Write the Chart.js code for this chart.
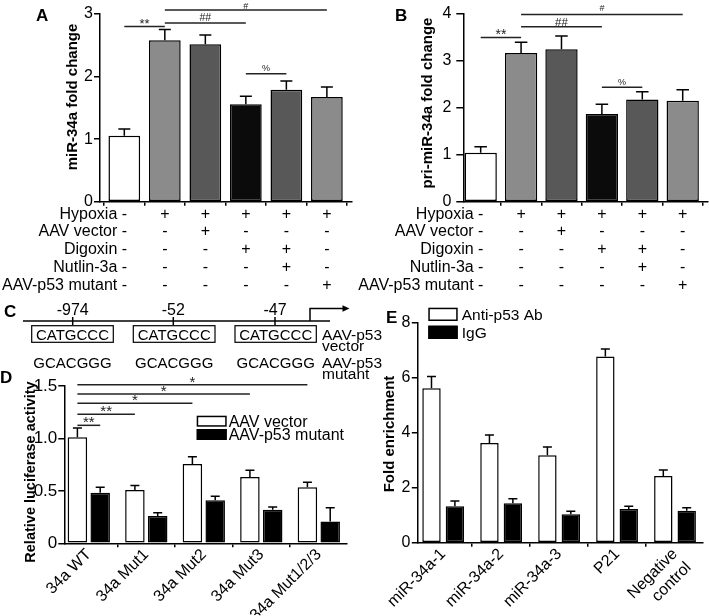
<!DOCTYPE html>
<html>
<head>
<meta charset="utf-8">
<script src="https://cdn.jsdelivr.net/npm/chart.js@4.4.1/dist/chart.umd.min.js"></script>
<style>
html,body{margin:0;padding:0;background:#fff;}
#fig{position:relative;width:709px;height:616px;overflow:hidden;background:#fff;}
#fig canvas{position:absolute;left:0;top:0;}
#fig svg{position:absolute;left:0;top:0;}
</style>
</head>
<body>
<div id="fig">
<canvas id="cA" width="709" height="616"></canvas>
<canvas id="cB" width="709" height="616"></canvas>
<canvas id="cD" width="709" height="616"></canvas>
<canvas id="cE" width="709" height="616"></canvas>
<svg width="709" height="616" viewBox="0 0 709 616" font-family="'Liberation Sans', Arial, Helvetica, sans-serif">
  <g font-weight="bold" font-size="17" fill="#000">
    <text x="36" y="21">A</text>
    <text x="395" y="21">B</text>
    <text x="4" y="316.5">C</text>
    <text x="0" y="383">D</text>
    <text x="386" y="323">E</text>
  </g>
  <g stroke="#000" stroke-width="1.5" fill="none">
    <line x1="23" y1="321" x2="330" y2="321"/>
    <line x1="72.7" y1="317" x2="72.7" y2="325"/>
    <line x1="173.3" y1="317" x2="173.3" y2="325"/>
    <line x1="275" y1="317" x2="275" y2="325"/>
    <path d="M310 321 V308.5 H343"/>
  </g>
  <path d="M349.5 308.5 L342.5 305.3 L342.5 311.7 Z" fill="#000"/>
  <g font-size="16" text-anchor="middle" fill="#000">
    <text x="72.7" y="315">-974</text>
    <text x="173.3" y="315">-52</text>
    <text x="275" y="315">-47</text>
  </g>
  <g stroke="#000" stroke-width="1.2" fill="none">
    <rect x="31.7" y="325.7" width="81.6" height="16.6"/>
    <rect x="133.3" y="325.7" width="81.7" height="16.6"/>
    <rect x="235" y="325.7" width="81.3" height="16.6"/>
  </g>
  <g font-size="15" text-anchor="middle" fill="#000">
    <text x="72.5" y="339.6">CATGCCC</text>
    <text x="174.2" y="339.6">CATGCCC</text>
    <text x="275.7" y="339.6">CATGCCC</text>
    <text x="72.5" y="367.5">GCACGGG</text>
    <text x="174.2" y="367.5">GCACGGG</text>
    <text x="275.7" y="367.5">GCACGGG</text>
  </g>
  <g font-size="15.5" fill="#000">
    <text x="322" y="339.5">AAV-p53</text>
    <text x="322" y="350.5">vector</text>
    <text x="322" y="367.5">AAV-p53</text>
    <text x="322" y="379">mutant</text>
  </g>
</svg>
</div>
<script>
// ---------------- data ----------------
const conditionRows = ['Hypoxia', 'AAV vector', 'Digoxin', 'Nutlin-3a', 'AAV-p53 mutant'];
const conditionTable = [
  ['-', '+', '+', '+', '+', '+'],
  ['-', '-', '+', '-', '-', '-'],
  ['-', '-', '-', '+', '+', '-'],
  ['-', '-', '-', '-', '+', '-'],
  ['-', '-', '-', '-', '-', '+']
];
const groupIndexA = [0, 1, 2, 3, 4, 5];
const miR34aFold = [1.055, 2.58, 2.515, 1.556, 1.79, 1.673];
const miR34aErr  = [0.107, 0.171, 0.149, 0.128, 0.139, 0.16];
const priMiR34aFold = [1.044, 3.17, 3.25, 1.87, 2.18, 2.153];
const priMiR34aErr  = [0.128, 0.227, 0.283, 0.206, 0.164, 0.234];
const yTicksA = [0, 1, 2, 3];
const yTicksB = [0, 1, 2, 3, 4];

const lucCategories = ['34a WT', '34a Mut1', '34a Mut2', '34a Mut3', '34a Mut1/2/3'];
const lucAAVVector = [1.011, 0.508, 0.756, 0.632, 0.534];
const lucAAVVectorErr = [0.089, 0.042, 0.07, 0.064, 0.048];
const lucAAVp53Mutant = [0.483, 0.26, 0.41, 0.321, 0.207];
const lucAAVp53MutantErr = [0.051, 0.032, 0.038, 0.025, 0.133];
const yTicksD = [0, 0.5, 1.0, 1.5];

const chipCategories = ['miR-34a-1', 'miR-34a-2', 'miR-34a-3', 'P21', ['Negative', 'control']];
const chipAntiP53 = [5.605, 3.62, 3.172, 6.755, 2.421];
const chipAntiP53Err = [0.424, 0.29, 0.303, 0.279, 0.218];
const chipIgG = [1.32, 1.429, 1.029, 1.223, 1.162];
const chipIgGErr = [0.193, 0.169, 0.109, 0.097, 0.109];
const yTicksE = [0, 2, 4, 6, 8];

// ---------------- helpers ----------------
const FONT = "'Liberation Sans', Arial, Helvetica, sans-serif";
const W = 709, H = 616;
Chart.defaults.font.family = FONT;
Chart.defaults.color = '#000';

function capText(ctx, text, x, cy, size) {
  ctx.fillText(text, x, cy + size * 0.358);
}
function visText(ctx, text, x, cy) {
  const m = ctx.measureText(text);
  ctx.fillText(text, x, cy + (m.actualBoundingBoxAscent - m.actualBoundingBoxDescent) / 2);
}

const figPlugin = {
  id: 'fig',
  afterDraw(chart, args, o) {
    const ctx = chart.ctx, xs = chart.scales.x, ys = chart.scales.y;
    ctx.save();
    // error bars
    chart.data.datasets.forEach((ds, di) => {
      const meta = chart.getDatasetMeta(di);
      meta.data.forEach((el, i) => {
        const v = ds.data[i].y, e = ds.errors[i];
        const yTop = ys.getPixelForValue(v + e), yBar = ys.getPixelForValue(v);
        ctx.strokeStyle = '#000'; ctx.lineWidth = 1.5;
        ctx.beginPath();
        ctx.moveTo(el.x, yBar); ctx.lineTo(el.x, yTop);
        ctx.moveTo(el.x - o.cap / 2, yTop); ctx.lineTo(el.x + o.cap / 2, yTop);
        ctx.stroke();
      });
    });
    // significance brackets
    const px = ref => chart.getDatasetMeta(ref[0]).data[ref[1]].x;
    (o.sig || []).forEach(s => {
      const x1 = px(s.from), x2 = px(s.to), yy = ys.getPixelForValue(s.y);
      ctx.strokeStyle = '#222'; ctx.lineWidth = 1.5;
      ctx.beginPath(); ctx.moveTo(x1, yy); ctx.lineTo(x2, yy); ctx.stroke();
      ctx.fillStyle = '#222'; ctx.textAlign = 'center';
      ctx.font = s.size + 'px ' + FONT;
      visText(ctx, s.text, (x1 + x2) / 2, yy - s.gap);
    });
    // condition table
    if (o.table) {
      const t = o.table;
      ctx.fillStyle = '#000';
      ctx.font = t.size + 'px ' + FONT;
      t.rows.forEach((r, ri) => {
        const cy = chart.chartArea.bottom + t.first + ri * t.step;
        ctx.textAlign = 'right';
        capText(ctx, r, xs.getPixelForValue(0) - t.nameGap, cy, t.size);
        ctx.textAlign = 'center';
        t.cells[ri].forEach((c, ci) => capText(ctx, c, xs.getPixelForValue(ci), cy, t.size));
      });
    }
    // legend
    if (o.legend) {
      const L = o.legend;
      chart.data.datasets.forEach((ds, i) => {
        const bx = L.x, by = L.y + i * L.dy;
        ctx.fillStyle = ds.backgroundColor;
        ctx.fillRect(bx, by, L.w, L.h);
        ctx.strokeStyle = '#000'; ctx.lineWidth = 1.5;
        ctx.strokeRect(bx + 0.75, by + 0.75, L.w - 1.5, L.h - 1.5);
        ctx.fillStyle = '#000'; ctx.textAlign = 'left';
        ctx.font = L.size + 'px ' + FONT;
        capText(ctx, ds.label, bx + L.w + L.gap, by + L.h / 2, L.size);
      });
    }
    // y-axis title (x is the text baseline position)
    if (o.title) {
      ctx.translate(o.title.x, o.title.y);
      ctx.rotate(-Math.PI / 2);
      ctx.fillStyle = '#000';
      ctx.font = 'bold ' + o.title.size + 'px ' + FONT;
      ctx.textAlign = 'center'; ctx.textBaseline = 'alphabetic';
      ctx.fillText(o.title.text, 0, 0);
    }
    ctx.restore();
  }
};

function build(id, cfg) {
  const a = cfg.area, yW = 45, xH = cfg.x.labels ? 72 : 10;
  const xTicks = cfg.x.labels
    ? { display: true, autoSkip: false, maxRotation: 45, minRotation: 45,
        font: { family: FONT, size: cfg.x.fs }, color: '#000', padding: cfg.x.pad,
        callback: v => cfg.x.labels[v] }
    : { display: false };
  return new Chart(document.getElementById(id), {
    type: 'bar',
    data: { datasets: cfg.datasets },
    options: {
      responsive: false, animation: false, devicePixelRatio: 1, events: [],
      layout: { padding: { left: a.left - yW, top: a.top, right: W - a.right, bottom: H - a.bottom - xH } },
      plugins: { legend: { display: false }, tooltip: { enabled: false }, fig: cfg.fig },
      scales: {
        x: {
          type: 'linear', position: 'bottom', min: cfg.x.min, max: cfg.x.max, offset: false,
          afterBuildTicks: s => { s.ticks = cfg.x.values.map(v => ({ value: v })); },
          afterFit: s => { s.height = xH; s.paddingLeft = 0; s.paddingRight = 0; },
          ticks: xTicks,
          grid: { drawOnChartArea: false, drawTicks: true, tickLength: 4, color: '#000', lineWidth: 1.5 },
          border: { display: true, color: '#000', width: 1.5 }
        },
        y: {
          type: 'linear', position: 'left', min: cfg.y.min, max: cfg.y.max,
          afterBuildTicks: s => { s.ticks = cfg.y.values.map(v => ({ value: v })); },
          afterFit: s => { s.width = yW; s.paddingTop = 0; s.paddingBottom = 0; },
          ticks: { font: { family: FONT, size: cfg.y.fs }, color: '#000', padding: cfg.y.pad,
                   callback: v => cfg.y.fmt(v) },
          grid: { drawOnChartArea: false, drawTicks: true, tickLength: cfg.y.tl, color: '#000', lineWidth: 1.5 },
          border: { display: true, color: '#000', width: 1.5 }
        }
      }
    },
    plugins: [figPlugin]
  });
}

const barColorsAB = ['#ffffff', '#8b8b8b', '#585858', '#0b0b0b', '#585858', '#8b8b8b'];
const pts = (vals) => vals.map((v, i) => ({ x: i, y: v }));

// Panel A
build('cA', {
  area: { left: 100, right: 352, top: 14, bottom: 201.7 },
  x: { min: -0.6, max: 5.62, values: groupIndexA },
  y: { min: 0, max: 3, values: yTicksA, fs: 16, pad: 1, tl: 6, fmt: v => String(v) },
  datasets: [{ label: 'miR-34a', data: pts(miR34aFold), errors: miR34aErr,
    backgroundColor: barColorsAB, borderColor: '#000', borderWidth: 1.5, borderSkipped: false,
    categoryPercentage: 1, barPercentage: 0.783 }],
  fig: {
    cap: 12,
    sig: [
      { from: [0, 0], to: [0, 1], y: 2.80, text: '**', size: 13, gap: 4.7 },
      { from: [0, 1], to: [0, 3], y: 2.856, text: '##', size: 10.5, gap: 5.7 },
      { from: [0, 1], to: [0, 5], y: 3.064, text: '#', size: 9, gap: 3.8 },
      { from: [0, 3], to: [0, 4], y: 2.046, text: '%', size: 9, gap: 5.9 }
    ],
    table: { rows: conditionRows, cells: conditionTable, size: 16, first: 11.3, step: 17.7, nameGap: 7 },
    title: { text: 'miR-34a fold change', x: 77, y: 97, size: 15 }
  }
});

// Panel B
build('cB', {
  area: { left: 463.3, right: 708, top: 14, bottom: 201.7 },
  x: { min: -0.43, max: 5.626, values: groupIndexA },
  y: { min: 0, max: 4, values: yTicksB, fs: 16, pad: 5, tl: 7, fmt: v => String(v) },
  datasets: [{ label: 'pri-miR-34a', data: pts(priMiR34aFold), errors: priMiR34aErr,
    backgroundColor: barColorsAB, borderColor: '#000', borderWidth: 1.5, borderSkipped: false,
    categoryPercentage: 1, barPercentage: 0.80 }],
  fig: {
    cap: 12.5,
    sig: [
      { from: [0, 0], to: [0, 1], y: 3.50, text: '**', size: 14, gap: 5.5 },
      { from: [0, 1], to: [0, 3], y: 3.73, text: '##', size: 11.5, gap: 4.5 },
      { from: [0, 1], to: [0, 5], y: 3.99, text: '#', size: 9, gap: 6 },
      { from: [0, 3], to: [0, 4], y: 2.44, text: '%', size: 9, gap: 5.3 }
    ],
    table: { rows: conditionRows, cells: conditionTable, size: 16, first: 11.3, step: 17.7, nameGap: 7 },
    title: { text: 'pri-miR-34a fold change', x: 432, y: 103, size: 15 }
  }
});

// Panel D
build('cD', {
  area: { left: 64.3, right: 346.7, top: 386, bottom: 543.3 },
  x: { min: -0.426, max: 4.485, values: [0, 1, 2, 3, 4], labels: lucCategories, fs: 16, pad: -2 },
  y: { min: 0, max: 1.5, values: yTicksD, fs: 17, pad: 1, tl: 6, fmt: v => v === 0 ? '0' : v.toFixed(1) },
  datasets: [
    { label: 'AAV vector', data: pts(lucAAVVector), errors: lucAAVVectorErr,
      backgroundColor: '#ffffff', borderColor: '#000', borderWidth: 1.5, borderSkipped: false,
      categoryPercentage: 0.793, barPercentage: 0.855 },
    { label: 'AAV-p53 mutant', data: pts(lucAAVp53Mutant), errors: lucAAVp53MutantErr,
      backgroundColor: '#000000', borderColor: '#000', borderWidth: 1.5, borderSkipped: false,
      categoryPercentage: 0.793, barPercentage: 0.855 }
  ],
  fig: {
    cap: 9,
    sig: [
      { from: [0, 0], to: [1, 0], y: 1.125, text: '**', size: 15, gap: 5.5 },
      { from: [0, 0], to: [0, 1], y: 1.23, text: '**', size: 15, gap: 5.5 },
      { from: [0, 0], to: [0, 2], y: 1.335, text: '*', size: 15, gap: 5 },
      { from: [0, 0], to: [0, 3], y: 1.424, text: '*', size: 15, gap: 5 },
      { from: [0, 0], to: [0, 4], y: 1.513, text: '*', size: 15, gap: 5 }
    ],
    legend: { x: 196.7, y: 415.7, w: 30, h: 11, dy: 13.3, gap: 2, size: 16 },
    title: { text: 'Relative luciferase activity', x: 35, y: 472, size: 14.5 }
  }
});

// Panel E
build('cE', {
  area: { left: 417.3, right: 703, top: 322.3, bottom: 542.7 },
  x: { min: -0.447, max: 4.483, values: [0, 1, 2, 3, 4], labels: chipCategories, fs: 16, pad: -2 },
  y: { min: 0, max: 8, values: yTicksE, fs: 16, pad: 1.5, tl: 5.5, fmt: v => String(v) },
  datasets: [
    { label: 'Anti-p53 Ab', data: pts(chipAntiP53), errors: chipAntiP53Err,
      backgroundColor: '#ffffff', borderColor: '#000', borderWidth: 1.5, borderSkipped: false,
      categoryPercentage: 0.808, barPercentage: 0.786 },
    { label: 'IgG', data: pts(chipIgG), errors: chipIgGErr,
      backgroundColor: '#000000', borderColor: '#000', borderWidth: 1.5, borderSkipped: false,
      categoryPercentage: 0.808, barPercentage: 0.786 }
  ],
  fig: {
    cap: 9,
    legend: { x: 428.3, y: 307.7, w: 29.4, h: 13.3, dy: 18, gap: 4, size: 15.5 },
    title: { text: 'Fold enrichment', x: 394, y: 434, size: 15 }
  }
});
</script>
</body>
</html>
